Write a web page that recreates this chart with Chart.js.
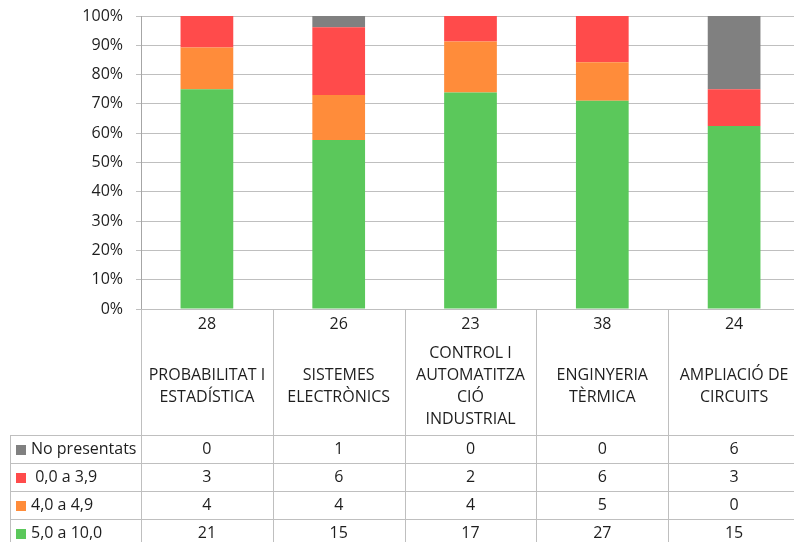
<!DOCTYPE html>
<html>
<head>
<meta charset="utf-8">
<script src="https://cdn.jsdelivr.net/npm/chart.js@4"></script>
<style>
html,body{margin:0;padding:0;background:#fff;overflow:hidden;}
#wrap{width:794px;height:542px;position:relative;overflow:hidden;}
canvas{display:block;}
</style>
</head>
<body>
<div id="wrap"><canvas id="c" width="800" height="542"></canvas></div>
<script>
// ---- data ----
const categories = [
  ["PROBABILITAT I", "ESTADÍSTICA"],
  ["SISTEMES", "ELECTRÒNICS"],
  ["CONTROL I", "AUTOMATITZA", "CIÓ", "INDUSTRIAL"],
  ["ENGINYERIA", "TÈRMICA"],
  ["AMPLIACIÓ DE", "CIRCUITS"]
];
const seriesNames = ["No presentats", " 0,0 a 3,9", "4,0 a 4,9", "5,0 a 10,0"];
const noPresentats = [0, 1, 0, 0, 6];
const nota0a39 = [3, 6, 2, 6, 3];
const nota4a49 = [4, 4, 4, 5, 0];
const nota5a10 = [21, 15, 17, 27, 15];
const yTicks = [0, 10, 20, 30, 40, 50, 60, 70, 80, 90, 100];

// ---- derived ----
const seriesValues = [noPresentats, nota0a39, nota4a49, nota5a10];
const seriesColors = ["#808080", "#FF4B4B", "#FF8C3A", "#5BC85B"];
const totals = categories.map((_, i) => seriesValues.reduce((s, a) => s + a[i], 0));
const pct = arr => arr.map((v, i) => v / totals[i] * 100);

const FONT = "'Open Sans', sans-serif";
const TXT = "#1e1e1e";
const GRID = "#BFBFBF";

// stacked bottom-up: green, orange, red, grey
const order = [3, 2, 1, 0];
const datasets = order.map(k => ({
  label: seriesNames[k],
  data: pct(seriesValues[k]),
  backgroundColor: seriesColors[k],
  borderWidth: 0,
  categoryPercentage: 1,
  barPercentage: 0.4
}));

const tablePlugin = {
  id: 'dataTable',
  afterDraw(chart) {
    const ctx = chart.ctx;
    const xs = chart.scales.x;
    const area = chart.chartArea;
    const centers = categories.map((_, i) => xs.getPixelForValue(i));
    const half = (centers[1] - centers[0]) / 2;
    const top = area.bottom;
    const rowTop = 435, rowH = 28, left = 10;
    ctx.save();
    ctx.strokeStyle = GRID;
    ctx.lineWidth = 1;
    ctx.beginPath();
    for (let i = 0; i < centers.length; i++) {
      const x = Math.round(centers[i] - half) + 0.5;
      ctx.moveTo(x, top);
      ctx.lineTo(x, 542);
    }
    ctx.moveTo(left + 0.5, rowTop);
    ctx.lineTo(left + 0.5, 542);
    for (let r = 0; r < 5; r++) {
      const y = rowTop + r * rowH + 0.5;
      ctx.moveTo(left, y);
      ctx.lineTo(chart.width, y);
    }
    ctx.stroke();

    ctx.fillStyle = TXT;
    ctx.font = "16px " + FONT;
    ctx.textAlign = "center";
    ctx.textBaseline = "middle";
    centers.forEach((cx, i) => {
      ctx.fillText(String(totals[i]), cx, 324);
      const lines = categories[i];
      const lh = 22;
      const y0 = 386.5 - (lines.length - 1) * lh / 2;
      lines.forEach((ln, j) => ctx.fillText(ln, cx, y0 + j * lh));
    });
    seriesNames.forEach((name, r) => {
      const yc = rowTop + r * rowH + rowH / 2 + 0.5;
      ctx.fillStyle = seriesColors[r];
      ctx.fillRect(16, Math.round(yc - 5), 10, 10);
      ctx.fillStyle = TXT;
      ctx.textAlign = "left";
      ctx.fillText(name, 31, yc);
      ctx.textAlign = "center";
      centers.forEach((cx, i) => ctx.fillText(String(seriesValues[r][i]), cx, yc));
    });
    ctx.restore();
  }
};

new Chart(document.getElementById('c'), {
  type: 'bar',
  data: { labels: categories.map(c => c.join(' ')), datasets },
  options: {
    responsive: false,
    animation: false,
    devicePixelRatio: 1,
    layout: { padding: { top: 16, right: 0, bottom: 233, left: 0 } },
    plugins: { legend: { display: false }, tooltip: { enabled: false } },
    scales: {
      x: { stacked: true, display: false },
      y: {
        stacked: true,
        min: 0, max: 100,
        afterBuildTicks: s => { s.ticks = yTicks.map(v => ({ value: v })); },
        afterFit: s => { s.width = 141; s.paddingTop = 0; s.paddingBottom = 0; },
        border: { display: true, color: "#A6A6A6" },
        grid: { color: GRID, tickLength: 5 },
        ticks: {
          padding: 13,
          color: TXT,
          font: { family: FONT, size: 16 },
          callback: v => v + '%'
        }
      }
    }
  },
  plugins: [tablePlugin]
});
</script>
</body>
</html>
